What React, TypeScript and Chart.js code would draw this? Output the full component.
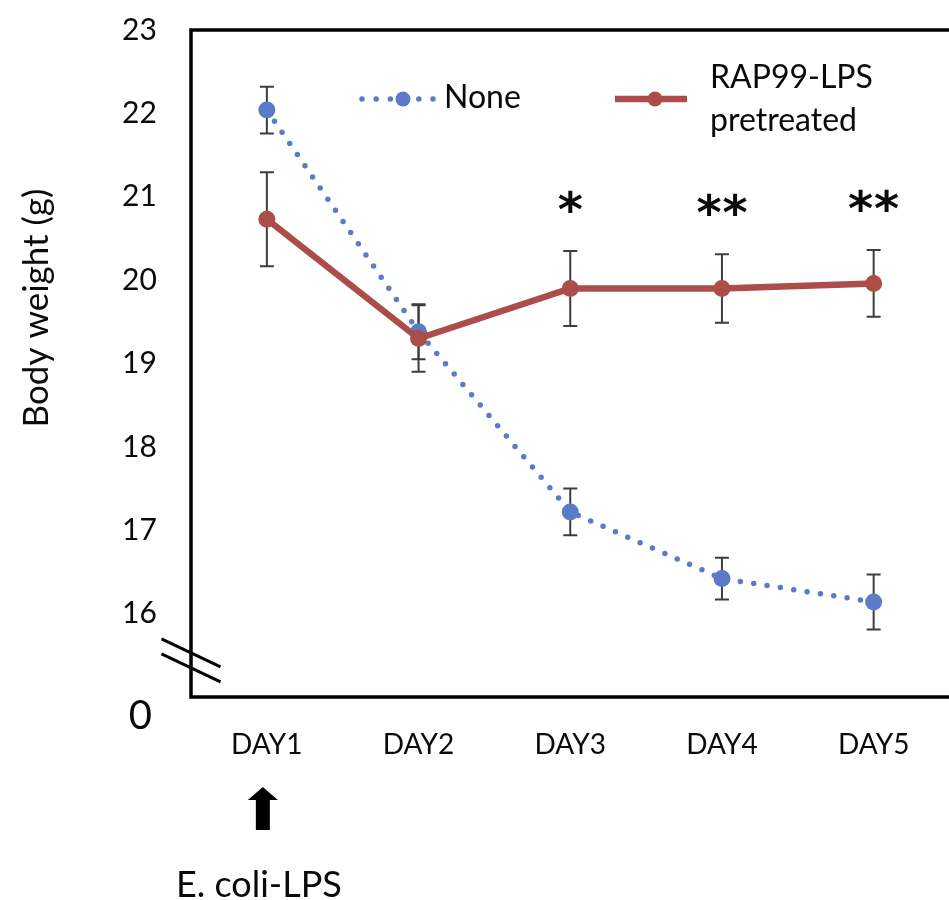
import React, { useEffect, useRef } from "react";
import { Chart, registerables } from "chart.js";

Chart.register(...registerables);

// ---------- data ----------
const days = ["DAY1", "DAY2", "DAY3", "DAY4", "DAY5"];
const noneLabel = "None";
const noneMean = [22.04, 19.38, 17.22, 16.42, 16.14];
const noneErr = [0.28, 0.33, 0.28, 0.25, 0.33];
const rapLabel = ["RAP99-LPS", "pretreated"];
const rapMean = [20.73, 19.3, 19.9, 19.9, 19.96];
const rapErr = [0.565, 0.4, 0.45, 0.41, 0.4];
const significance = ["", "", "*", "**", "**"];
const yMin = 15;
const yMax = 23;
const yTickValues = [16, 17, 18, 19, 20, 21, 22, 23];
const brokenAxisLabel = "0";
const axisBreakValues = [15.53, 15.35];
const yTitle = "Body weight (g)";
const treatmentLabel = "E. coli-LPS";
const treatmentDayIndex = 0;

// ---------- style ----------
const BLUE = "#5b7bc6";
const RED = "#ad4d4a";
const ERR = "#3d3d3d";
const TEXT = "#0a0a0a";
const FONT = "Lato, 'Open Sans', sans-serif";

const decorPlugin = {
  id: "decor",
  beforeDatasetsDraw(chart: any) {
    const ctx = chart.ctx;
    const y = chart.scales.y;
    chart.data.datasets.forEach((ds: any, di: number) => {
      const meta = chart.getDatasetMeta(di);
      (ds.errors || []).forEach((e: number, i: number) => {
        const px = meta.data[i].x;
        const m = ds.data[i];
        const yt = y.getPixelForValue(m + e);
        const yb = y.getPixelForValue(m - e);
        ctx.save();
        ctx.strokeStyle = ERR;
        ctx.lineWidth = 2;
        ctx.beginPath();
        ctx.moveTo(px, yt);
        ctx.lineTo(px, yb);
        ctx.moveTo(px - 7, yt);
        ctx.lineTo(px + 7, yt);
        ctx.moveTo(px - 7, yb);
        ctx.lineTo(px + 7, yb);
        ctx.stroke();
        ctx.restore();
      });
    });
  },
  afterDatasetsDraw(chart: any) {
    const ctx = chart.ctx;
    const { left, top, bottom } = chart.chartArea;
    const W = chart.width;
    const x = chart.scales.x;
    const y = chart.scales.y;

    ctx.save();
    // frame (right edge lies beyond the visible page)
    ctx.strokeStyle = "#000";
    ctx.lineWidth = 3.5;
    ctx.lineJoin = "miter";
    ctx.beginPath();
    ctx.moveTo(W + 10, top);
    ctx.lineTo(left, top);
    ctx.lineTo(left, bottom);
    ctx.lineTo(W + 10, bottom);
    ctx.stroke();

    // axis break marks
    ctx.lineWidth = 3;
    axisBreakValues.forEach((v) => {
      const cy = y.getPixelForValue(v);
      ctx.beginPath();
      ctx.moveTo(left - 29.5, cy - 14);
      ctx.lineTo(left + 29.5, cy + 14);
      ctx.stroke();
    });

    // broken-axis "0" label
    ctx.fillStyle = TEXT;
    ctx.font = `40px ${FONT}`;
    ctx.textAlign = "right";
    ctx.textBaseline = "alphabetic";
    ctx.fillText(brokenAxisLabel, left - 39, y.getPixelForValue(yMin) + 32);

    // y title
    ctx.save();
    ctx.translate(37, 308);
    ctx.rotate(-Math.PI / 2);
    ctx.textAlign = "center";
    ctx.textBaseline = "middle";
    ctx.font = `35px ${FONT}`;
    ctx.fillText(yTitle, 0, 0);
    ctx.restore();

    // legend
    const ly = top + 69;
    const dsNone = chart.data.datasets[1];
    const dsRap = chart.data.datasets[0];
    ctx.strokeStyle = dsNone.borderColor;
    ctx.lineWidth = dsNone.borderWidth;
    ctx.lineCap = "round";
    ctx.setLineDash([0, 14.2]);
    ctx.beginPath();
    ctx.moveTo(left + 171, ly);
    ctx.lineTo(left + 242, ly);
    ctx.stroke();
    ctx.setLineDash([]);
    ctx.fillStyle = dsNone.backgroundColor;
    ctx.beginPath();
    ctx.arc(left + 212, ly, 7.5, 0, Math.PI * 2);
    ctx.fill();

    ctx.strokeStyle = dsRap.borderColor;
    ctx.lineWidth = dsRap.borderWidth;
    ctx.lineCap = "butt";
    ctx.beginPath();
    ctx.moveTo(left + 424, ly);
    ctx.lineTo(left + 496, ly);
    ctx.stroke();
    ctx.fillStyle = dsRap.backgroundColor;
    ctx.beginPath();
    ctx.arc(left + 464, ly, 7.5, 0, Math.PI * 2);
    ctx.fill();

    ctx.fillStyle = TEXT;
    ctx.font = `32px ${FONT}`;
    ctx.textAlign = "left";
    ctx.textBaseline = "alphabetic";
    ctx.fillText(String(dsNone.label), left + 253, top + 78);
    const rl = Array.isArray(dsRap.label) ? dsRap.label : [dsRap.label];
    rl.forEach((t: string, k: number) => {
      ctx.fillText(t, left + 519, top + 58 + k * 43);
    });

    // significance stars
    ctx.font = `bold 48px 'DejaVu Sans', sans-serif`;
    ctx.textAlign = "center";
    significance.forEach((s, i) => {
      if (!s) return;
      const px = x.getPixelForValue(i);
      const cy = y.getPixelForValue(rapMean[i] + rapErr[i]) - 52;
      const n = s.length;
      for (let k = 0; k < n; k++) {
        const cx = px + (k - (n - 1) / 2) * 26;
        ctx.fillText("*", cx, cy + 27);
      }
    });

    // treatment arrow + label
    const ax = x.getPixelForValue(treatmentDayIndex) - 4;
    const tip = bottom + 90;
    ctx.fillStyle = "#000";
    ctx.beginPath();
    ctx.moveTo(ax, tip);
    ctx.lineTo(ax + 15, tip + 13);
    ctx.lineTo(ax + 7, tip + 13);
    ctx.lineTo(ax + 7, tip + 43);
    ctx.lineTo(ax - 7, tip + 43);
    ctx.lineTo(ax - 7, tip + 13);
    ctx.lineTo(ax - 15, tip + 13);
    ctx.closePath();
    ctx.fill();

    ctx.fillStyle = TEXT;
    ctx.font = `36px ${FONT}`;
    ctx.textAlign = "center";
    ctx.textBaseline = "alphabetic";
    ctx.fillText(treatmentLabel, ax - 4, bottom + 200);
    ctx.restore();
  },
};

export default function App() {
  const ref = useRef<HTMLCanvasElement | null>(null);

  useEffect(() => {
    if (!ref.current) return;
    const chart = new Chart(ref.current, {
      type: "line",
      data: {
        labels: days,
        datasets: [
          {
            label: rapLabel as any,
            data: rapMean,
            errors: rapErr,
            borderColor: RED,
            backgroundColor: RED,
            borderWidth: 6.5,
            pointRadius: 8.5,
            pointBorderWidth: 0,
            pointBackgroundColor: RED,
            tension: 0,
            fill: false,
            order: 0,
          } as any,
          {
            label: noneLabel,
            data: noneMean,
            errors: noneErr,
            borderColor: BLUE,
            backgroundColor: BLUE,
            borderWidth: 5.5,
            borderDash: [0, 13.5],
            borderCapStyle: "round",
            pointRadius: 8.5,
            pointBorderWidth: 0,
            pointBackgroundColor: BLUE,
            tension: 0,
            fill: false,
            order: 1,
          } as any,
        ],
      },
      options: {
        responsive: false,
        animation: false,
        layout: { padding: { left: 122, top: 30, right: 0, bottom: 0 } },
        plugins: {
          legend: { display: false },
          tooltip: { enabled: false },
          title: { display: false },
        },
        scales: {
          x: {
            type: "category",
            offset: true,
            grid: { display: false, drawTicks: false },
            border: { display: false },
            ticks: {
              color: TEXT,
              font: { family: FONT, size: 28 },
              padding: 31,
              maxRotation: 0,
              autoSkip: false,
            },
            afterFit: (s: any) => {
              s.height = 203;
            },
          },
          y: {
            type: "linear",
            min: yMin,
            max: yMax,
            grid: { display: false, drawTicks: false },
            border: { display: false },
            afterBuildTicks: (s: any) => {
              s.ticks = [yMin, ...yTickValues].map((v) => ({ value: v }));
            },
            ticks: {
              color: TEXT,
              font: { family: FONT, size: 30 },
              padding: 0,
              crossAlign: "far",
              callback: (v: any) => (yTickValues.includes(Number(v)) ? String(v) : ""),
            },
            afterFit: (s: any) => {
              s.width = 69;
            },
          },
        },
      } as any,
      plugins: [decorPlugin],
    });
    return () => chart.destroy();
  }, []);

  return (
    <div
      style={{
        position: "fixed",
        left: 0,
        top: 0,
        width: 949,
        height: 900,
        overflow: "hidden",
        background: "#fff",
      }}
    >
      <canvas ref={ref} width={958} height={900} style={{ width: 958, height: 900, display: "block" }} />
    </div>
  );
}
